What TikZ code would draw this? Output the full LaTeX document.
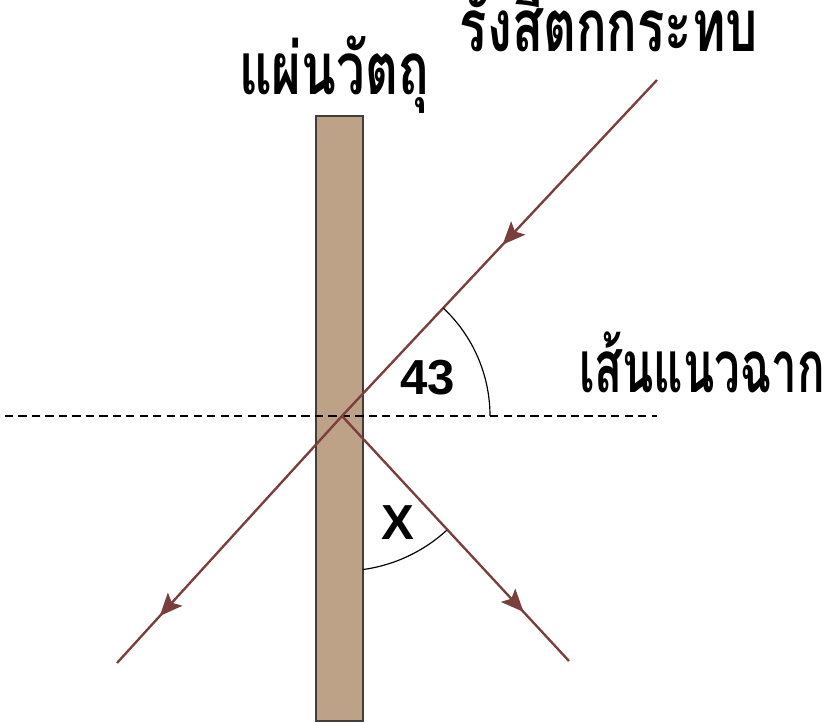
\documentclass[tikz,border=0pt]{standalone}
\usepackage{fontspec}
\setmainfont{Liberation Sans}
\newfontfamily\thaifont[Script=Thai]{Loma}
\usetikzlibrary{arrows.meta,decorations.markings}
\definecolor{rayBrown}{RGB}{122,62,60}
\definecolor{plateTan}{RGB}{190,162,135}
\definecolor{plateEdge}{RGB}{66,62,58}
\tikzset{
  ray line/.style={draw=rayBrown,line width=2pt},
  ray arrow/.style={postaction={decorate,decoration={markings,mark=at position #1 with {\arrow[rayBrown]{Stealth[length=6.8mm,width=5.8mm,inset=1.4mm]}}}}},
  plate box/.style={draw=plateEdge,fill=plateTan,line width=1.5pt},
  normal line/.style={draw=black,line width=1pt,dash pattern=on 7pt off 4.5pt},
  angle arc/.style={draw=black,line width=1pt},
  thai label/.style={font=\thaifont\bfseries\fontsize{62}{68}\selectfont,anchor=base,inner sep=0pt,transform shape,xscale=.7},
  angle label/.style={font=\bfseries\fontsize{42}{46}\selectfont,anchor=base,inner sep=0pt}
}
\begin{document}
\begin{tikzpicture}[x=.03cm,y=.03cm]
        \useasboundingbox (0,0) rectangle (827,723);
        \draw[plate box] (316,2) rectangle (363,607);
        \coordinate (hit) at (342,307);
        \coordinate (src) at (657,643);
        \coordinate (exitL) at (117,60);
        \coordinate (reflEnd) at (569,62);
        \coordinate (normL) at (5,307);
        \coordinate (normR) at (657,307);
        \draw[normal line] (normL) -- (normR);
        \draw[ray line,ray arrow=.49] (src) -- (hit);
        \draw[ray line,ray arrow=.81] (hit) -- (exitL);
        \draw[ray line,ray arrow=.8] (hit) -- (reflEnd);
        \draw[angle arc] (hit) ++(0:148) arc (0:46.8:148);
        \draw[angle arc] (hit) ++(-82.3:155) arc (-82.3:-47.5:155);
        \node[angle label] (angA) at (428,328) {43};
        \node[angle label] (angX) at (398,183) {X};
        \node[thai label] (rayName) at (609,671) {รังสีตกกระทบ};
        \node[thai label] (plateName) at (334,628) {แผ่นวัตถุ};
        \node[thai label,xscale=.9] (normName) at (702,330) {เส้นแนวฉาก};
      \end{tikzpicture}
\end{document}
